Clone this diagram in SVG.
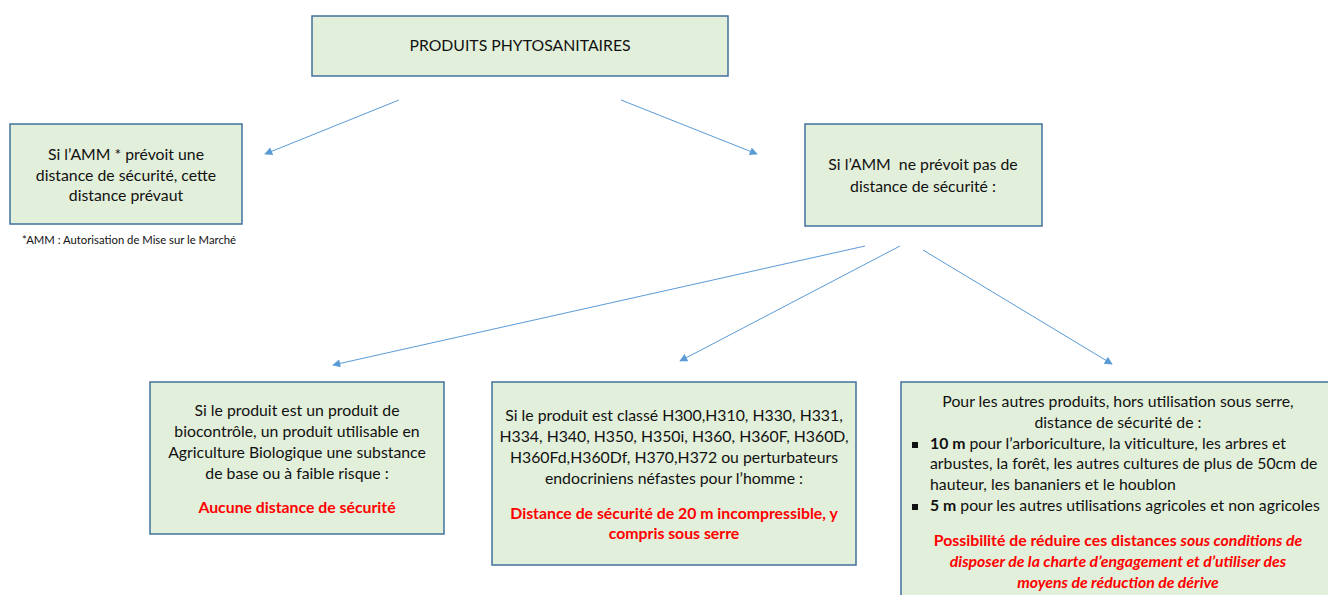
<svg xmlns="http://www.w3.org/2000/svg" width="1328" height="595" viewBox="0 0 1328 595">
<style>
.box{fill:#E2EFDA;stroke:#41719C;stroke-width:1.5}
text{font-family:Lato,"Open Sans","Liberation Sans",sans-serif;font-size:15.8px;fill:#111}
.c{text-anchor:middle}
.red{fill:#FF0000;font-weight:bold}
.it{font-style:italic}
.b{font-weight:bold}
.con{stroke:#5B9BD5;stroke-width:1;fill:none;marker-end:url(#ah)}
</style>
<defs>
<marker id="ah" viewBox="0 0 10 10" refX="9" refY="5" markerWidth="10" markerHeight="8" markerUnits="userSpaceOnUse" orient="auto">
<path d="M0,0 L10,5 L0,10 z" fill="#5B9BD5"/>
</marker>
</defs>
<rect width="1328" height="595" fill="#fff"/>
<g id="connectors">
<line class="con" x1="399" y1="100" x2="265" y2="154"/>
<line class="con" x1="621" y1="100" x2="757" y2="154"/>
<line class="con" x1="865" y1="246" x2="333" y2="365"/>
<line class="con" x1="900" y1="246" x2="680" y2="361"/>
<line class="con" x1="923" y1="250" x2="1112" y2="364"/>
</g>
<g id="top">
<rect class="box" x="312" y="16" width="416" height="60"/>
<text class="c" x="520" y="51">PRODUITS PHYTOSANITAIRES</text>
</g>
<g id="left">
<rect class="box" x="10" y="124" width="232" height="100"/>
<text class="c" x="126" y="160">Si l’AMM * prévoit une</text>
<text class="c" x="126" y="181">distance de sécurité, cette</text>
<text class="c" x="126" y="201">distance prévaut</text>
</g>
<g id="footnote">
<text x="22" y="244" style="font-size:11.3px">*AMM : Autorisation de Mise sur le Marché</text>
</g>
<g id="right">
<rect class="box" x="805" y="124" width="237" height="102"/>
<text class="c" x="923" y="170" xml:space="preserve">Si l’AMM  ne prévoit pas de</text>
<text class="c" x="923" y="192">distance de sécurité :</text>
</g>
<g id="bio">
<rect class="box" x="150" y="382" width="294" height="152"/>
<text class="c" x="297" y="416">Si le produit est un produit de</text>
<text class="c" x="297" y="437">biocontrôle, un produit utilisable en</text>
<text class="c" x="297" y="458">Agriculture Biologique une substance</text>
<text class="c" x="297" y="479">de base ou à faible risque :</text>
<text class="c red" x="297" y="513">Aucune distance de sécurité</text>
</g>
<g id="h">
<rect class="box" x="492" y="382" width="364" height="183"/>
<text class="c" x="674" y="421">Si le produit est classé H300,H310, H330, H331,</text>
<text class="c" x="674" y="442">H334, H340, H350, H350i, H360, H360F, H360D,</text>
<text class="c" x="674" y="463">H360Fd,H360Df, H370,H372 ou perturbateurs</text>
<text class="c" x="674" y="484">endocriniens néfastes pour l’homme :</text>
<text class="c red" x="674" y="519">Distance de sécurité de 20 m incompressible, y</text>
<text class="c red" x="674" y="539">compris sous serre</text>
</g>
<g id="autres">
<rect class="box" x="901" y="382" width="440" height="230"/>
<text class="c" x="1118" y="407">Pour les autres produits, hors utilisation sous serre,</text>
<text class="c" x="1118" y="428">distance de sécurité de :</text>
<rect x="912" y="442" width="6" height="6" fill="#111"/>
<text x="930" y="449"><tspan class="b">10 m</tspan> pour l’arboriculture, la viticulture, les arbres et</text>
<text x="930" y="469">arbustes, la forêt, les autres cultures de plus de 50cm de</text>
<text x="930" y="490">hauteur, les bananiers et le houblon</text>
<rect x="912" y="504" width="6" height="6" fill="#111"/>
<text x="930" y="511"><tspan class="b">5 m</tspan> pour les autres utilisations agricoles et non agricoles</text>
<text class="c red" x="1118" y="546">Possibilité de réduire ces distances <tspan class="it">sous conditions de</tspan></text>
<text class="c red it" x="1118" y="567">disposer de la charte d’engagement et d’utiliser des</text>
<text class="c red it" x="1118" y="588">moyens de réduction de dérive</text>
</g>
</svg>
